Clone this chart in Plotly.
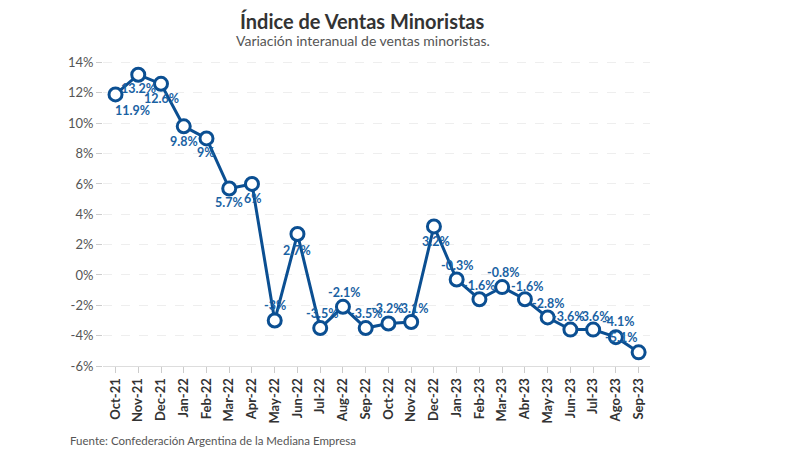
import plotly.graph_objects as go

months = ["Oct-21", "Nov-21", "Dec-21", "Jan-22", "Feb-22", "Mar-22", "Apr-22", "May-22",
          "Jun-22", "Jul-22", "Aug-22", "Sep-22", "Oct-22", "Nov-22", "Dec-22", "Jan-23",
          "Feb-23", "Mar-23", "Abr-23", "May-23", "Jun-23", "Jul-23", "Ago-23", "Sep-23"]
values = [11.9, 13.2, 12.6, 9.8, 9.0, 5.7, 6.0, -3.0, 2.7, -3.5, -2.1, -3.5, -3.2, -3.1,
          3.2, -0.3, -1.6, -0.8, -1.6, -2.8, -3.6, -3.6, -4.1, -5.1]
# label offsets in pixels (style only): positive dy = below the marker
label_dx = [17, 0, 0, 0, 0, 0, 1, 0, 0, 2, 1, 0, -1, 1, 2, 0, 0, 1, 2, 0, -2, 0, 2, -18]
label_dy = [16, 14, 15, 15, 14, 14, 15, -15, 16, -15, -14, -15, -15, -14, 15, -14, -14, -15,
            -13, -14, -13, -13, -16, -15]
ytick_vals = [-6, -4, -2, 0, 2, 4, 6, 8, 10, 12, 14]

FONT = "Lato, 'Noto Sans', sans-serif"
BLUE = "#0b4f92"
LABEL = "#1a62a3"

fig = go.Figure()
fig.add_trace(go.Scatter(
    x=months, y=values,
    mode="lines+markers",
    line=dict(color=BLUE, width=3),
    marker=dict(size=13, color="white", line=dict(color=BLUE, width=3)),
    cliponaxis=False,
    hoverinfo="skip",
))

annotations = []
for m, v, dx, dy in zip(months, values, label_dx, label_dy):
    annotations.append(dict(
        x=m, y=v, xref="x", yref="y", text=f"<b>{v:g}%</b>", showarrow=False,
        xshift=dx, yshift=-dy, xanchor="center", yanchor="middle",
        font=dict(family=FONT, size=12.5, color=LABEL),
    ))

annotations += [
    dict(text="<b>Índice de Ventas Minoristas</b>", xref="paper", yref="paper",
         x=0.475, y=1.0, yshift=47, showarrow=False, xanchor="center", yanchor="top",
         borderpad=0, font=dict(family=FONT, size=20, color="#333")),
    dict(text="Variación interanual de ventas minoristas.", xref="paper", yref="paper",
         x=0.475, y=1.0, yshift=15, showarrow=False, xanchor="center", yanchor="middle",
         font=dict(family=FONT, size=14, color="#555")),
    dict(text="Fuente: Confederación Argentina de la Mediana Empresa", xref="paper", yref="paper",
         x=-0.064, y=0, yshift=-74, showarrow=False, xanchor="left", yanchor="middle",
         font=dict(family=FONT, size=11.5, color="#555")),
]

fig.update_layout(
    width=792, height=442,
    margin=dict(l=95, r=150, t=47, b=84),
    paper_bgcolor="white", plot_bgcolor="white",
    showlegend=False,
    font=dict(family=FONT, color="#444"),
    xaxis=dict(
        type="category", range=[-0.55, 23.5],
        tickangle=-90, ticks="outside", ticklen=6, tickcolor="#ccc",
        tickfont=dict(family=FONT, size=13, color="#333", weight="bold"),
        showgrid=False, showline=True, linecolor="#ddd", linewidth=1,
        zeroline=False,
    ),
    yaxis=dict(
        range=[-6, 14.5], tickvals=ytick_vals,
        ticktext=[f"{v}%" for v in ytick_vals],
        ticks="outside", ticklen=6, tickcolor="#ccc",
        tickfont=dict(family=FONT, size=13, color="#555"),
        showgrid=True, gridcolor="#eeeeee", griddash="dash", gridwidth=1,
        zeroline=False, showline=False,
    ),
    annotations=annotations,
)

fig.write_html("out.html")
